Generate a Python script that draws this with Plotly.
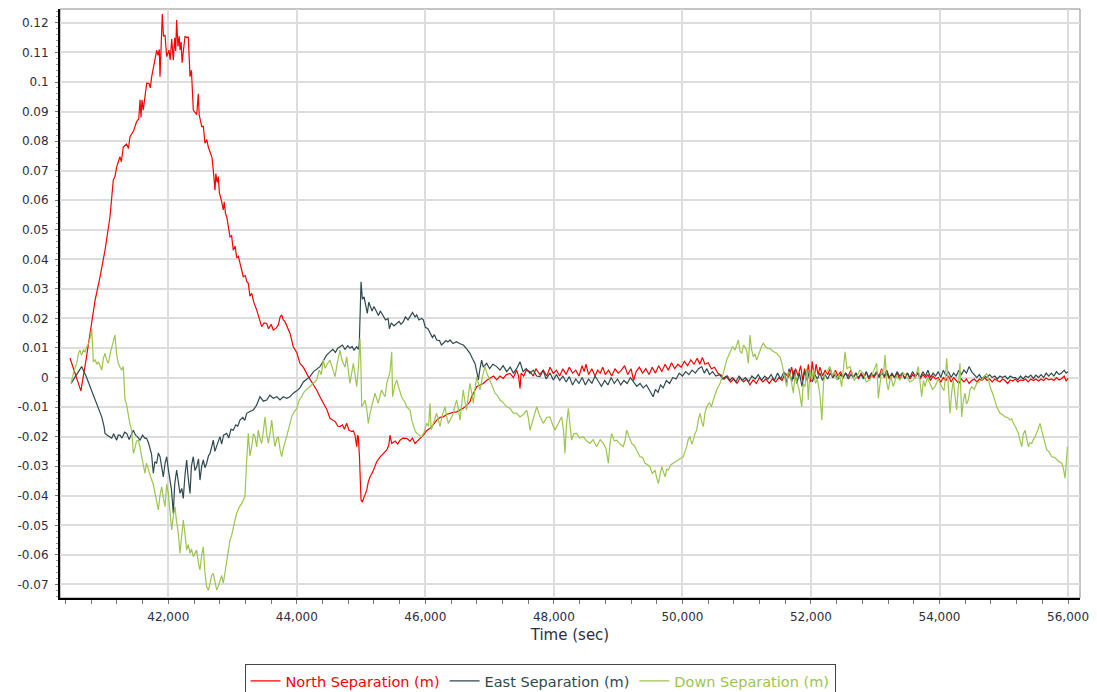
import plotly.graph_objects as go

# ---------------- data (time in sec, separation in m) ----------------
north_pts = [
    (40470, 0.0066), (40560, 0.001), (40640, -0.0045), (40720, 0.006), (40808, 0.0194),
    (40860, 0.026), (40937, 0.034), (41015, 0.043), (41093, 0.0544), (41144, 0.0668),
    (41170, 0.068), (41197, 0.0713), (41248, 0.0747), (41270, 0.073), (41300, 0.078),
    (41350, 0.079), (41380, 0.0775), (41404, 0.0815), (41460, 0.0835), (41508, 0.0866),
    (41540, 0.0875), (41560, 0.094), (41575, 0.088), (41590, 0.094), (41610, 0.0905),
    (41640, 0.0955), (41664, 0.0996), (41700, 0.0995), (41720, 0.098), (41742, 0.1018),
    (41780, 0.106), (41820, 0.1108), (41840, 0.109), (41860, 0.111), (41871, 0.1018),
    (41890, 0.1108), (41907, 0.123), (41925, 0.1155), (41949, 0.1159), (41975, 0.1086),
    (42010, 0.1108), (42030, 0.1075), (42053, 0.1145), (42078, 0.1074), (42100, 0.115),
    (42115, 0.1105), (42130, 0.121), (42150, 0.112), (42170, 0.1155), (42182, 0.1108),
    (42200, 0.1135), (42215, 0.1065), (42233, 0.1105), (42260, 0.1155), (42290, 0.115),
    (42311, 0.1153), (42338, 0.1018), (42360, 0.104), (42389, 0.0905), (42420, 0.0895),
    (42442, 0.089), (42467, 0.096), (42480, 0.089), (42520, 0.0849), (42545, 0.085),
    (42571, 0.0793), (42600, 0.0805), (42622, 0.078), (42650, 0.0765), (42680, 0.0745),
    (42700, 0.0702), (42727, 0.0634), (42740, 0.069), (42760, 0.066), (42778, 0.068),
    (42795, 0.0625), (42820, 0.0605), (42856, 0.0567), (42870, 0.0595), (42890, 0.0555),
    (42909, 0.0544), (42935, 0.0515), (42960, 0.0476), (42985, 0.048), (43011, 0.0431),
    (43040, 0.0445), (43064, 0.0405), (43090, 0.041), (43116, 0.0387), (43140, 0.0365),
    (43167, 0.0341), (43200, 0.0345), (43220, 0.0325), (43245, 0.0319), (43270, 0.0275),
    (43298, 0.0285), (43330, 0.0255), (43376, 0.0228), (43420, 0.02), (43453, 0.0172),
    (43490, 0.0185), (43531, 0.0183), (43560, 0.0165), (43600, 0.018), (43634, 0.0161),
    (43680, 0.0168), (43712, 0.0178), (43740, 0.0205), (43764, 0.0212), (43790, 0.0195),
    (43816, 0.0189), (43860, 0.0165), (43893, 0.015), (43945, 0.0104), (43998, 0.0085),
    (44049, 0.0048), (44101, 0.0035), (44179, 0.0003), (44250, -0.002), (44309, -0.0042),
    (44360, -0.0065), (44412, -0.0087), (44470, -0.011), (44516, -0.0138), (44560, -0.0145),
    (44600, -0.015), (44640, -0.0165), (44672, -0.0166), (44710, -0.016), (44740, -0.0175),
    (44776, -0.0155), (44810, -0.0178), (44854, -0.0183), (44880, -0.018), (44905, -0.0195),
    (44920, -0.0215), (44932, -0.0234), (44945, -0.0195), (44957, -0.02), (44975, -0.027),
    (44999, -0.0415), (45020, -0.042), (45046, -0.0403), (45070, -0.0395), (45088, -0.0381),
    (45110, -0.0355), (45139, -0.0336), (45180, -0.032), (45210, -0.03), (45243, -0.0285),
    (45290, -0.027), (45346, -0.0257), (45400, -0.0245), (45430, -0.023), (45450, -0.0195),
    (45476, -0.0223), (45530, -0.0215), (45570, -0.0225), (45605, -0.0212), (45650, -0.0205),
    (45710, -0.0206), (45760, -0.0215), (45800, -0.0205), (45838, -0.0223), (45900, -0.021),
    (45968, -0.0195), (46020, -0.018), (46072, -0.0172), (46120, -0.016), (46176, -0.0144),
    (46230, -0.0135), (46279, -0.0133), (46330, -0.0125), (46383, -0.0121), (46430, -0.0118),
    (46487, -0.0116), (46540, -0.011), (46590, -0.0104), (46640, -0.0095), (46694, -0.0082),
    (46720, -0.0065), (46746, -0.0053), (46770, -0.004), (46799, -0.0031), (46850, -0.0025),
    (46902, -0.002), (46950, -0.001), (47006, -0.0003), (47060, 0.0005), (47110, -0.0008),
    (47160, 0.0005), (47213, -0.0003), (47260, 0.001), (47317, 0.0014), (47370, 0.0),
    (47420, 0.0025), (47450, 0.0005), (47473, -0.0037), (47490, 0.0015), (47530, 0.0005),
    (47570, 0.0025), (47628, 0.002), (47680, 0.0005), (47720, 0.003), (47780, 0.001),
    (47835, 0.0025), (47890, 0.0005), (47940, 0.0035), (47991, 0.0014), (48040, 0.0025),
    (48090, 0.0005), (48140, 0.003), (48190, 0.001), (48240, 0.0035), (48290, 0.0015),
    (48340, 0.0025), (48390, 0.0005), (48440, 0.004), (48470, 0.002), (48500, 0.0045),
    (48540, 0.001), (48590, 0.003), (48640, 0.0005), (48680, 0.0025), (48720, 0.0015),
    (48760, 0.0035), (48800, 0.001), (48850, 0.0025), (48900, 0.0005), (48950, 0.003),
    (49000, 0.0015), (49050, 0.0025), (49100, 0.004), (49150, 0.001), (49200, 0.003),
    (49240, -0.001), (49280, 0.002), (49330, 0.0035), (49380, 0.0015), (49430, 0.003),
    (49480, 0.001), (49530, 0.0035), (49580, 0.0015), (49630, 0.004), (49680, 0.002),
    (49730, 0.0045), (49780, 0.0025), (49830, 0.005), (49880, 0.003), (49930, 0.0045),
    (49980, 0.0035), (50030, 0.0055), (50080, 0.004), (50130, 0.006), (50180, 0.0045),
    (50230, 0.0065), (50270, 0.0045), (50310, 0.0068), (50350, 0.0045), (50400, 0.005),
    (50450, 0.003), (50500, 0.0035), (50550, 0.0015), (50600, 0.0008), (50650, -0.0005),
    (50700, 0.0005), (50750, -0.0015), (50800, -0.0005), (50850, -0.002), (50900, 0.0),
    (50950, -0.0015), (51000, -0.0005), (51050, -0.0025), (51100, -0.0008), (51150, -0.002),
    (51200, 0.0), (51250, -0.0015), (51300, -0.0005), (51350, -0.002), (51400, -0.0005),
    (51450, -0.0015), (51500, 0.0), (51550, -0.001), (51600, 0.0015), (51650, 0.0),
    (51700, 0.0035), (51730, -0.0005), (51760, 0.003), (51800, 0.0005), (51840, 0.004),
    (51870, -0.001), (51900, 0.003), (51930, 0.0005), (51960, 0.0045), (51990, -0.0015),
    (52020, 0.0055), (52050, 0.0), (52080, 0.0045), (52110, 0.001), (52140, 0.0035),
    (52180, 0.0005), (52220, 0.0025), (52260, 0.001), (52300, 0.003), (52340, 0.0),
    (52380, 0.0025), (52420, 0.0005), (52460, 0.002), (52500, 0.0), (52540, 0.0015),
    (52580, 0.0005), (52620, 0.0025), (52660, 0.0), (52700, 0.0015), (52740, -0.0005),
    (52780, 0.0015), (52820, 0.0), (52860, 0.002), (52900, -0.0005), (52940, 0.001),
    (52980, 0.0), (53020, 0.0015), (53060, 0.0005), (53100, 0.003), (53140, 0.0),
    (53180, 0.0015), (53220, -0.0005), (53260, 0.001), (53300, 0.0), (53340, 0.0015),
    (53380, -0.0005), (53420, 0.001), (53460, 0.0), (53500, 0.0015), (53540, -0.0005),
    (53580, 0.001), (53620, 0.0), (53660, 0.0015), (53700, -0.0005), (53740, 0.001),
    (53780, 0.0), (53820, 0.001), (53860, -0.001), (53900, 0.0005), (53940, -0.0005),
    (53980, 0.0), (54020, -0.0015), (54060, 0.0), (54100, -0.001), (54140, 0.0005),
    (54180, -0.0015), (54220, 0.0), (54260, -0.001), (54300, -0.002), (54340, -0.0005),
    (54380, -0.0015), (54420, -0.0005), (54460, -0.002), (54500, -0.001), (54540, -0.0005),
    (54580, -0.0015), (54620, -0.0005), (54660, -0.001), (54700, 0.0), (54740, -0.001),
    (54780, -0.0005), (54820, -0.0015), (54860, -0.0005), (54900, -0.001), (54940, -0.0015),
    (54980, -0.0005), (55020, -0.001), (55060, -0.002), (55100, -0.0008), (55140, -0.0012),
    (55180, -0.0005), (55220, -0.0015), (55260, -0.0008), (55300, -0.001), (55340, -0.0005),
    (55380, -0.0015), (55420, -0.0005), (55460, -0.001), (55500, -0.0005), (55540, -0.0012),
    (55580, -0.0005), (55620, -0.001), (55660, -0.0002), (55700, -0.0008), (55740, -0.0005),
    (55780, -0.001), (55820, 0.0), (55860, -0.0008), (55900, -0.0003), (55940, 0.0005),
    (55970, -0.0012), (56000, -0.0002),
]

east_pts = [
    (40487, -0.002), (40570, 0.001), (40652, 0.0037), (40720, 0.0005), (40782, -0.0031),
    (40840, -0.006), (40886, -0.0087), (40930, -0.011), (40964, -0.0133), (41000, -0.0165),
    (41015, -0.0189), (41050, -0.0195), (41093, -0.02), (41120, -0.0205), (41150, -0.019),
    (41197, -0.0212), (41220, -0.0195), (41248, -0.0195), (41280, -0.0205), (41320, -0.0185),
    (41353, -0.0189), (41390, -0.021), (41420, -0.0195), (41456, -0.0178), (41490, -0.0195),
    (41520, -0.02), (41560, -0.0212), (41600, -0.0195), (41637, -0.0206), (41660, -0.0205),
    (41690, -0.022), (41715, -0.0245), (41740, -0.026), (41767, -0.0324), (41790, -0.0285),
    (41819, -0.029), (41845, -0.0255), (41871, -0.0268), (41895, -0.0305), (41922, -0.0336),
    (41950, -0.029), (41975, -0.0268), (42000, -0.031), (42026, -0.0347), (42050, -0.038),
    (42078, -0.046), (42100, -0.036), (42130, -0.0313), (42155, -0.035), (42182, -0.0392),
    (42210, -0.0375), (42233, -0.0409), (42260, -0.033), (42286, -0.0279), (42310, -0.034),
    (42338, -0.0392), (42360, -0.03), (42389, -0.0268), (42415, -0.0315), (42442, -0.0302),
    (42470, -0.0275), (42493, -0.0347), (42520, -0.03), (42545, -0.0279), (42570, -0.0305),
    (42597, -0.029), (42625, -0.0265), (42649, -0.0257), (42675, -0.0235), (42700, -0.0212),
    (42725, -0.025), (42753, -0.0234), (42780, -0.0215), (42804, -0.02), (42830, -0.0225),
    (42860, -0.0195), (42909, -0.0189), (42940, -0.0205), (42975, -0.0175), (43011, -0.0178),
    (43050, -0.016), (43080, -0.0165), (43116, -0.0144), (43160, -0.0135), (43190, -0.0145),
    (43220, -0.0121), (43270, -0.0115), (43323, -0.011), (43370, -0.0095), (43400, -0.0075),
    (43427, -0.0065), (43480, -0.008), (43531, -0.0076), (43580, -0.006), (43634, -0.007),
    (43690, -0.0065), (43738, -0.0076), (43790, -0.0065), (43842, -0.007), (43893, -0.0065),
    (43945, -0.0053), (43998, -0.0045), (44049, -0.0035), (44101, -0.0015), (44150, -0.0005),
    (44205, 0.0003), (44260, 0.002), (44309, 0.003), (44360, 0.0037), (44410, 0.0055),
    (44460, 0.0075), (44516, 0.0087), (44560, 0.0095), (44600, 0.0085), (44640, 0.01),
    (44672, 0.0104), (44710, 0.011), (44750, 0.0095), (44790, 0.0108), (44827, 0.0099),
    (44860, 0.0105), (44890, 0.0093), (44931, 0.0104), (44960, 0.0095), (44972, 0.0116),
    (44999, 0.0324), (45020, 0.0265), (45046, 0.0273), (45070, 0.0245), (45097, 0.0217),
    (45120, 0.0255), (45139, 0.024), (45170, 0.0225), (45200, 0.024), (45243, 0.0223),
    (45270, 0.021), (45300, 0.0225), (45346, 0.0206), (45380, 0.0195), (45420, 0.02),
    (45440, 0.0165), (45470, 0.0185), (45510, 0.0175), (45554, 0.0183), (45590, 0.019),
    (45620, 0.018), (45657, 0.0189), (45690, 0.0205), (45730, 0.0195), (45761, 0.0206),
    (45800, 0.022), (45840, 0.0205), (45865, 0.0212), (45900, 0.0195), (45940, 0.02),
    (45968, 0.0195), (46000, 0.017), (46040, 0.0165), (46072, 0.015), (46110, 0.0135),
    (46140, 0.0145), (46176, 0.0127), (46220, 0.0125), (46250, 0.011), (46279, 0.0116),
    (46320, 0.0125), (46350, 0.012), (46383, 0.0127), (46430, 0.0115), (46487, 0.0121),
    (46530, 0.0115), (46590, 0.011), (46640, 0.0098), (46694, 0.0082), (46730, 0.0065),
    (46772, 0.0048), (46800, 0.002), (46824, -0.0008), (46850, 0.003), (46876, 0.0059),
    (46900, 0.0035), (46954, 0.0048), (47000, 0.003), (47050, 0.0045), (47110, 0.0037),
    (47160, 0.0025), (47210, 0.004), (47265, 0.002), (47320, 0.0035), (47370, 0.0015),
    (47420, 0.003), (47473, 0.0053), (47520, 0.002), (47570, 0.003), (47628, 0.0014),
    (47680, 0.0025), (47730, 0.0005), (47784, 0.0003), (47830, 0.0025), (47880, -0.0005),
    (47940, 0.0015), (47991, -0.0008), (48040, 0.001), (48090, -0.001), (48140, 0.0005),
    (48190, -0.0015), (48240, 0.0003), (48290, -0.0025), (48340, -0.0005), (48390, -0.002),
    (48440, 0.0), (48490, -0.0025), (48540, -0.0005), (48590, -0.002), (48640, 0.0005),
    (48690, -0.0015), (48740, -0.003), (48790, -0.001), (48840, -0.0025), (48890, 0.0),
    (48940, -0.002), (48990, -0.0005), (49040, -0.0025), (49090, -0.001), (49140, -0.002),
    (49190, 0.0), (49240, -0.0015), (49290, -0.003), (49340, -0.002), (49390, -0.0035),
    (49440, -0.0025), (49490, -0.0045), (49544, -0.0065), (49580, -0.004), (49620, -0.005),
    (49660, -0.0025), (49700, -0.0035), (49750, -0.001), (49800, -0.002), (49850, 0.0),
    (49900, -0.0005), (49950, 0.0015), (50000, 0.0005), (50050, 0.002), (50100, 0.001),
    (50150, 0.0025), (50200, 0.0015), (50250, 0.003), (50300, 0.0037), (50340, 0.0015),
    (50380, 0.003), (50420, 0.001), (50470, 0.002), (50520, 0.0005), (50580, 0.001),
    (50630, -0.0005), (50680, 0.0005), (50730, -0.001), (50780, 0.0), (50830, -0.0015),
    (50880, 0.0005), (50930, -0.001), (50980, 0.0), (51030, -0.0015), (51080, 0.0005),
    (51130, -0.0005), (51180, 0.001), (51230, -0.001), (51280, 0.0005), (51330, -0.0005),
    (51380, 0.001), (51430, -0.001), (51480, 0.0015), (51530, -0.0005), (51580, 0.002),
    (51620, -0.002), (51660, 0.003), (51700, -0.0015), (51740, 0.0025), (51780, -0.002),
    (51820, 0.0015), (51860, -0.003), (51900, 0.002), (51940, -0.001), (51980, 0.0025),
    (52020, -0.0015), (52060, 0.001), (52100, -0.0005), (52140, 0.0015), (52180, -0.001),
    (52220, 0.001), (52260, -0.0005), (52300, 0.0015), (52340, 0.0), (52380, 0.001),
    (52420, -0.0005), (52460, 0.001), (52500, 0.0), (52540, 0.0015), (52580, -0.0005),
    (52620, 0.001), (52660, 0.0), (52700, 0.0015), (52740, 0.0), (52780, 0.001),
    (52820, -0.0005), (52860, 0.002), (52900, 0.0), (52940, 0.0015), (52980, 0.0005),
    (53020, 0.002), (53060, 0.0), (53100, 0.0015), (53140, 0.0005), (53180, 0.0025),
    (53220, 0.0), (53260, 0.0015), (53300, 0.0), (53340, 0.002), (53380, 0.0005),
    (53420, 0.0015), (53460, -0.0005), (53500, 0.0015), (53540, 0.0), (53580, 0.002),
    (53620, 0.0005), (53660, 0.0015), (53700, 0.0), (53740, 0.002), (53780, 0.0005),
    (53820, 0.0025), (53860, 0.0), (53900, 0.0015), (53940, 0.0005), (53980, 0.002),
    (54020, 0.0), (54060, 0.0025), (54100, 0.0005), (54140, 0.002), (54180, 0.0),
    (54220, 0.0015), (54260, 0.0005), (54300, 0.0025), (54340, 0.001), (54380, 0.0025),
    (54420, 0.0015), (54460, 0.0037), (54500, 0.002), (54540, 0.001), (54580, 0.0),
    (54620, 0.001), (54660, -0.0005), (54700, 0.0005), (54740, 0.0), (54780, 0.001),
    (54820, 0.0), (54860, 0.0005), (54900, -0.0005), (54940, 0.0005), (54980, 0.0),
    (55020, 0.0005), (55060, -0.0005), (55100, 0.0005), (55140, 0.0), (55180, 0.0),
    (55220, -0.0008), (55260, 0.0005), (55300, -0.0005), (55340, 0.0005), (55380, 0.0),
    (55420, 0.0008), (55460, -0.0003), (55500, 0.0008), (55540, 0.0), (55580, 0.001),
    (55620, 0.0), (55660, 0.0015), (55700, 0.0005), (55740, 0.0015), (55780, 0.0005),
    (55820, 0.002), (55860, 0.001), (55900, 0.0015), (55940, 0.0025), (55970, 0.0015),
    (56000, 0.002),
]

down_pts = [
    (40487, -0.002), (40530, 0.002), (40575, 0.0048), (40600, 0.008), (40626, 0.0093),
    (40650, 0.0075), (40680, 0.0095), (40705, 0.0085), (40730, 0.0104), (40760, 0.0115),
    (40790, 0.014), (40808, 0.0166), (40833, 0.0053), (40860, 0.006), (40890, 0.0045),
    (40911, 0.0053), (40940, 0.004), (40964, 0.0025), (40990, 0.0065), (41015, 0.0082),
    (41040, 0.006), (41067, 0.0048), (41100, 0.0085), (41125, 0.0105), (41144, 0.0127),
    (41171, 0.0144), (41195, 0.008), (41222, 0.0048), (41250, 0.0035), (41275, 0.0025),
    (41300, 0.0037), (41326, -0.0076), (41350, -0.009), (41378, -0.0133), (41405, -0.016),
    (41430, -0.0178), (41445, -0.021), (41456, -0.0257), (41480, -0.024), (41505, -0.0215),
    (41533, -0.0212), (41560, -0.0235), (41586, -0.0268), (41610, -0.029), (41637, -0.0324),
    (41660, -0.029), (41689, -0.0313), (41715, -0.0335), (41742, -0.0347), (41765, -0.036),
    (41793, -0.0392), (41820, -0.042), (41845, -0.0448), (41870, -0.04), (41897, -0.037),
    (41925, -0.041), (41949, -0.0437), (41975, -0.036), (42000, -0.0392), (42025, -0.045),
    (42053, -0.0516), (42078, -0.047), (42104, -0.0437), (42130, -0.049), (42156, -0.0527),
    (42182, -0.0595), (42210, -0.054), (42233, -0.0482), (42260, -0.053), (42286, -0.0584),
    (42310, -0.0565), (42338, -0.0595), (42360, -0.058), (42389, -0.0606), (42415, -0.0595),
    (42442, -0.0584), (42470, -0.063), (42493, -0.0651), (42520, -0.06), (42545, -0.0573),
    (42570, -0.066), (42597, -0.0708), (42625, -0.072), (42649, -0.0696), (42675, -0.067),
    (42700, -0.0663), (42725, -0.069), (42753, -0.0719), (42780, -0.0705), (42804, -0.0685),
    (42830, -0.067), (42856, -0.0696), (42880, -0.066), (42909, -0.0618), (42935, -0.058),
    (42960, -0.055), (42985, -0.0535), (43011, -0.0505), (43040, -0.048), (43064, -0.046),
    (43100, -0.044), (43142, -0.0426), (43170, -0.041), (43193, -0.0403), (43220, -0.028),
    (43245, -0.0189), (43270, -0.0265), (43298, -0.0234), (43325, -0.019), (43349, -0.02),
    (43375, -0.0235), (43401, -0.0178), (43425, -0.0205), (43453, -0.0223), (43480, -0.018),
    (43505, -0.0133), (43530, -0.019), (43556, -0.0223), (43585, -0.0185), (43609, -0.0144),
    (43635, -0.0195), (43660, -0.0234), (43685, -0.021), (43712, -0.02), (43740, -0.0245),
    (43764, -0.0268), (43790, -0.024), (43816, -0.0223), (43840, -0.02), (43867, -0.0178),
    (43893, -0.0155), (43920, -0.0133), (43960, -0.0115), (43998, -0.0105), (44040, -0.0075),
    (44076, -0.0065), (44101, -0.0053), (44150, -0.004), (44205, -0.0031), (44260, -0.002),
    (44309, -0.0008), (44350, 0.0025), (44380, 0.001), (44412, 0.0059), (44440, 0.0031),
    (44470, 0.0045), (44516, 0.0059), (44550, 0.0035), (44594, 0.0003), (44630, 0.005),
    (44672, 0.0093), (44700, 0.006), (44723, 0.0048), (44750, 0.0035), (44776, 0.007),
    (44800, 0.002), (44827, -0.002), (44850, 0.001), (44879, 0.0048), (44905, 0.001),
    (44932, -0.0031), (44960, 0.004), (44983, 0.0133), (45000, 0.002), (45009, -0.0099),
    (45035, -0.009), (45061, -0.0076), (45090, -0.011), (45112, -0.0155), (45140, -0.012),
    (45164, -0.0099), (45190, -0.0075), (45216, -0.0053), (45240, -0.007), (45268, -0.0087),
    (45295, -0.006), (45320, -0.0042), (45345, -0.0055), (45372, -0.0065), (45400, -0.002),
    (45424, 0.0003), (45450, 0.002), (45476, 0.0087), (45490, -0.0065), (45520, -0.003),
    (45554, -0.0008), (45580, -0.003), (45605, -0.0053), (45630, -0.0065), (45657, -0.0076),
    (45685, -0.0085), (45710, -0.0099), (45735, -0.0105), (45761, -0.011), (45790, -0.0145),
    (45813, -0.0166), (45840, -0.018), (45865, -0.0189), (45900, -0.0195), (45943, -0.02),
    (45980, -0.0185), (46021, -0.0155), (46050, -0.0165), (46072, -0.0087), (46090, -0.0178),
    (46130, -0.015), (46176, -0.0121), (46200, -0.014), (46228, -0.0166), (46260, -0.013),
    (46306, -0.0099), (46330, -0.013), (46357, -0.0155), (46395, -0.014), (46435, -0.0121),
    (46460, -0.0095), (46487, -0.0076), (46515, -0.011), (46539, -0.0144), (46565, -0.009),
    (46590, -0.0042), (46615, -0.008), (46642, -0.011), (46670, -0.006), (46694, -0.002),
    (46720, -0.005), (46746, -0.0087), (46770, -0.004), (46799, 0.0003), (46825, -0.002),
    (46850, -0.0042), (46890, 0.0005), (46928, 0.0037), (46965, 0.001), (47006, -0.0008),
    (47045, -0.003), (47084, -0.0053), (47120, -0.006), (47161, -0.0076), (47210, -0.0085),
    (47265, -0.0099), (47320, -0.0105), (47369, -0.0121), (47420, -0.012), (47473, -0.0133),
    (47525, -0.0125), (47577, -0.011), (47605, -0.014), (47628, -0.0178), (47680, -0.014),
    (47732, -0.0099), (47780, -0.013), (47835, -0.0155), (47890, -0.0135), (47939, -0.0133),
    (47980, -0.016), (48017, -0.0178), (48070, -0.0155), (48121, -0.0133), (48150, -0.018),
    (48172, -0.0257), (48195, -0.016), (48224, -0.0104), (48250, -0.016), (48276, -0.0212),
    (48310, -0.019), (48354, -0.0189), (48400, -0.0205), (48457, -0.02), (48510, -0.0215),
    (48562, -0.0223), (48610, -0.021), (48665, -0.0234), (48720, -0.021), (48769, -0.0223),
    (48810, -0.024), (48847, -0.029), (48875, -0.022), (48899, -0.0189), (48940, -0.0215),
    (48977, -0.0212), (49030, -0.0225), (49080, -0.0234), (49110, -0.021), (49132, -0.0178),
    (49170, -0.02), (49210, -0.0223), (49250, -0.023), (49288, -0.0245), (49315, -0.026),
    (49340, -0.0268), (49380, -0.027), (49418, -0.029), (49460, -0.0295), (49496, -0.0302),
    (49530, -0.0325), (49574, -0.0313), (49600, -0.034), (49626, -0.0358), (49650, -0.033),
    (49678, -0.0302), (49705, -0.032), (49729, -0.0336), (49755, -0.031), (49781, -0.0313),
    (49820, -0.0295), (49858, -0.029), (49900, -0.0285), (49936, -0.0279), (49975, -0.0275),
    (50014, -0.0268), (50040, -0.025), (50066, -0.0234), (50090, -0.021), (50118, -0.02),
    (50145, -0.0225), (50170, -0.0212), (50195, -0.019), (50222, -0.0178), (50250, -0.014),
    (50274, -0.0121), (50300, -0.015), (50325, -0.0166), (50350, -0.012), (50378, -0.0099),
    (50420, -0.0085), (50450, -0.0099), (50480, -0.0076), (50533, -0.0042), (50584, -0.002),
    (50636, 0.0014), (50688, 0.0059), (50740, 0.0082), (50780, 0.0105), (50818, 0.0093),
    (50845, 0.011), (50870, 0.0127), (50895, 0.009), (50922, 0.0082), (50950, 0.011),
    (50973, 0.0104), (51000, 0.009), (51025, 0.0048), (51051, 0.0144), (51075, 0.0095),
    (51103, 0.007), (51130, 0.008), (51155, 0.0059), (51200, 0.009), (51230, 0.0105),
    (51259, 0.0116), (51290, 0.0105), (51330, 0.0098), (51362, 0.0099), (51400, 0.009),
    (51440, 0.0085), (51467, 0.0082), (51490, 0.0075), (51518, 0.007), (51545, 0.005),
    (51570, 0.0025), (51595, 0.0005), (51622, -0.0031), (51648, 0.002), (51674, 0.0014),
    (51700, -0.002), (51726, -0.0053), (51752, 0.001), (51778, -0.0008), (51815, -0.004),
    (51856, -0.0099), (51880, -0.002), (51907, -0.0031), (51935, 0.003), (51959, -0.0076),
    (51985, 0.0025), (52011, -0.0008), (52040, 0.0025), (52070, -0.002), (52100, -0.0005),
    (52140, -0.006), (52169, -0.0144), (52195, -0.002), (52218, 0.0014), (52260, 0.0025),
    (52296, 0.0037), (52330, 0.0005), (52365, 0.002), (52401, -0.0008), (52440, 0.001),
    (52478, -0.0031), (52505, 0.002), (52530, 0.0087), (52560, 0.003), (52607, 0.0037),
    (52640, 0.0015), (52675, -0.001), (52712, 0.0003), (52760, 0.0025), (52815, 0.0014),
    (52860, -0.0015), (52918, -0.0008), (52970, 0.002), (53023, 0.0048), (53048, -0.007),
    (53075, -0.001), (53100, 0.0025), (53130, 0.001), (53152, 0.0076), (53180, -0.002),
    (53203, -0.0042), (53240, 0.0005), (53281, -0.0031), (53330, 0.0005), (53385, -0.0008),
    (53440, 0.0015), (53488, 0.0003), (53540, -0.0015), (53592, -0.0008), (53630, 0.0005),
    (53670, 0.0037), (53700, -0.002), (53722, -0.0065), (53750, -0.001), (53774, -0.0031),
    (53810, 0.0), (53852, -0.002), (53890, -0.004), (53930, -0.0031), (53980, -0.0005),
    (54034, -0.0031), (54070, -0.0045), (54090, 0.0), (54112, 0.0065), (54140, -0.004),
    (54163, -0.0121), (54190, -0.005), (54215, -0.0008), (54240, -0.006), (54267, -0.011),
    (54290, -0.004), (54318, 0.0048), (54345, -0.0133), (54370, -0.008), (54397, -0.0053),
    (54420, -0.009), (54448, -0.0076), (54475, -0.004), (54500, -0.0031), (54540, -0.004),
    (54578, -0.002), (54620, -0.0015), (54656, -0.0008), (54700, 0.0005), (54734, 0.0014),
    (54760, -0.0005), (54786, -0.0031), (54812, -0.0045), (54838, -0.0059), (54865, -0.008),
    (54890, -0.0099), (54915, -0.011), (54942, -0.0121), (54980, -0.0125), (55019, -0.0133),
    (55060, -0.0135), (55097, -0.0144), (55125, -0.014), (55149, -0.0155), (55190, -0.017),
    (55227, -0.0189), (55250, -0.021), (55279, -0.0234), (55305, -0.019), (55331, -0.0178),
    (55360, -0.021), (55383, -0.0234), (55410, -0.022), (55435, -0.0223), (55460, -0.021),
    (55487, -0.02), (55525, -0.018), (55564, -0.0155), (55590, -0.018), (55616, -0.02),
    (55640, -0.022), (55669, -0.0245), (55700, -0.025), (55747, -0.0268), (55790, -0.027),
    (55825, -0.0279), (55860, -0.0285), (55903, -0.029), (55930, -0.031), (55955, -0.0341),
    (55975, -0.028), (55990, -0.0234),
]

series_names = ["North Separation (m)", "East Separation (m)", "Down Separation (m)"]
series_colors = ["#ff0000", "#2f4a4f", "#9cc64e"]

x_tick_vals = [42000, 44000, 46000, 48000, 50000, 52000, 54000, 56000]
x_tick_labels = ["42,000", "44,000", "46,000", "48,000", "50,000", "52,000", "54,000", "56,000"]
y_tick_vals = [-0.07, -0.06, -0.05, -0.04, -0.03, -0.02, -0.01, 0.0,
               0.01, 0.02, 0.03, 0.04, 0.05, 0.06, 0.07, 0.08, 0.09, 0.1, 0.11, 0.12]
y_tick_labels = ["-0.07", "-0.06", "-0.05", "-0.04", "-0.03", "-0.02", "-0.01", "0",
                 "0.01", "0.02", "0.03", "0.04", "0.05", "0.06", "0.07", "0.08", "0.09", "0.1", "0.11", "0.12"]
x_title = "Time (sec)"

# ---------------- figure ----------------
fig = go.Figure()
for pts, name, color in zip([north_pts, east_pts, down_pts], series_names, series_colors):
    fig.add_trace(go.Scatter(
        x=[p[0] for p in pts], y=[p[1] for p in pts], mode="lines",
        line=dict(color=color, width=1.2),
        name="<span style='color:%s'>%s</span>" % (color, name),
    ))

# the page adds an 8px body margin, so the figure is laid out 8px up/left
font_main = "DejaVu Sans, Verdana, sans-serif"
fig.update_layout(
    width=1097, height=692,
    margin=dict(l=52, r=25, t=1, b=102),
    paper_bgcolor="white", plot_bgcolor="white",
    font=dict(family=font_main, size=11, color="#2e2e3e"),
    showlegend=True,
    legend=dict(
        orientation="h", x=0.4706, xanchor="center", y=-0.1121, yanchor="top",
        bordercolor="#444444", borderwidth=1, bgcolor="white",
        font=dict(family=font_main, size=14.5, color="#444"),
        itemwidth=30, tracegroupgap=0,
    ),
    shapes=[dict(type="rect", xref="paper", yref="paper", x0=0, x1=1, y0=0, y1=1,
                 line=dict(color="#8a8a8a", width=1), layer="below")],
)
fig.update_xaxes(
    range=[40315, 56186], tickmode="array", tickvals=x_tick_vals, ticktext=x_tick_labels,
    showgrid=True, gridcolor="#dddddd", gridwidth=1.5, zeroline=False, automargin=False,
    showline=True, linecolor="black", linewidth=2,
    ticks="outside", ticklen=4, tickcolor="#777", tickfont=dict(size=12), ticklabelstandoff=3,
    minor=dict(dtick=400, tick0=40000, ticks="outside", ticklen=4, tickcolor="#777", showgrid=False),
    title=dict(text=x_title, font=dict(size=15), standoff=6),
)
fig.update_yaxes(
    range=[-0.0746, 0.1247], tickmode="array", tickvals=y_tick_vals, ticktext=y_tick_labels,
    showgrid=True, gridcolor="#dddddd", gridwidth=1.5, zeroline=False, automargin=False,
    showline=True, linecolor="black", linewidth=2,
    ticks="outside", ticklen=3, tickcolor="#777", tickfont=dict(size=12), ticklabelstandoff=4,
    minor=dict(dtick=0.002, tick0=0, ticks="outside", ticklen=2, tickcolor="#999", showgrid=False),
)

fig.write_html("out.html")
